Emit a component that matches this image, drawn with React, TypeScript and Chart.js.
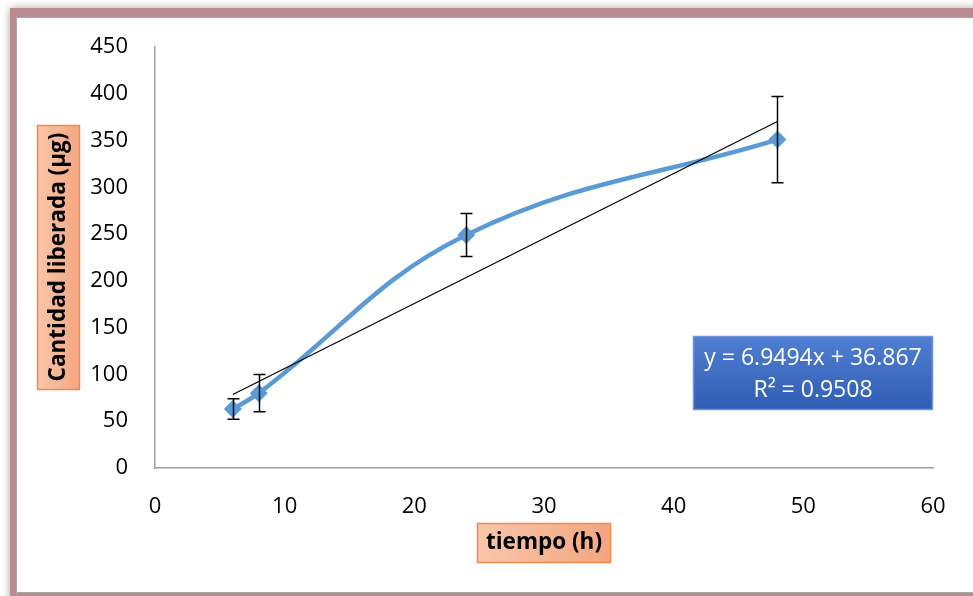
import React, { useEffect, useRef } from "react";
import { Chart, registerables } from "chart.js";

Chart.register(...registerables);

const tiempo = [6, 8, 24, 48];
const cantidad = [63, 80, 249, 351];
const errorBars = [11, 20, 23, 46];
const trendX = [6, 48];
const trendSlope = 6.9494;
const trendIntercept = 36.867;
const xTicks = [0, 10, 20, 30, 40, 50, 60];
const yTicks = [0, 50, 100, 150, 200, 250, 300, 350, 400, 450];
const equationLines = ["y = 6.9494x + 36.867", "R² = 0.9508"];
const xTitle = "tiempo (h)";
const yTitle = "Cantidad liberada (µg)";

const FONT = "'Open Sans', 'Noto Sans', sans-serif";

const framePlugin = {
  id: "frame",
  beforeDraw(chart: any) {
    const ctx = chart.ctx;
    const w = chart.width;
    const h = chart.height;
    ctx.save();
    ctx.fillStyle = "#ffffff";
    ctx.fillRect(0, 0, w, h);
    ctx.shadowColor = "rgba(0,0,0,0.35)";
    ctx.shadowBlur = 8;
    ctx.fillStyle = "#b98b91";
    ctx.fillRect(10, 8, w + 40, h + 40);
    ctx.shadowBlur = 0;
    ctx.shadowColor = "transparent";
    ctx.fillStyle = "#ffffff";
    ctx.fillRect(16, 17, w, 575);
    ctx.strokeStyle = "#a8a8a8";
    ctx.lineWidth = 1;
    ctx.beginPath();
    ctx.moveTo(16.5, h + 10);
    ctx.lineTo(16.5, 17.5);
    ctx.lineTo(w + 10, 17.5);
    ctx.moveTo(16, 592.5);
    ctx.lineTo(w, 592.5);
    ctx.stroke();
    ctx.restore();
  },
};

const errorBarPlugin = {
  id: "errorBars",
  afterDatasetsDraw(chart: any) {
    const ctx = chart.ctx;
    const xs = chart.scales.x;
    const ys = chart.scales.y;
    ctx.save();
    ctx.strokeStyle = "#000000";
    ctx.lineWidth = 1.5;
    for (let i = 0; i < tiempo.length; i++) {
      const px = Math.round(xs.getPixelForValue(tiempo[i])) + 0.5;
      const top = ys.getPixelForValue(cantidad[i] + errorBars[i]);
      const bot = ys.getPixelForValue(cantidad[i] - errorBars[i]);
      ctx.beginPath();
      ctx.moveTo(px, top);
      ctx.lineTo(px, bot);
      ctx.moveTo(px - 6, top);
      ctx.lineTo(px + 6, top);
      ctx.moveTo(px - 6, bot);
      ctx.lineTo(px + 6, bot);
      ctx.stroke();
    }
    ctx.restore();
  },
};

function drawBox(ctx: any, x: number, y: number, w: number, h: number, c1: string, c2: string, border: string, vertical: boolean) {
  const g = vertical ? ctx.createLinearGradient(x, y, x, y + h) : ctx.createLinearGradient(x, y, x + w, y);
  g.addColorStop(0, c1);
  g.addColorStop(1, c2);
  ctx.fillStyle = g;
  ctx.fillRect(x, y, w, h);
  ctx.strokeStyle = border;
  ctx.lineWidth = 1.5;
  ctx.strokeRect(x + 0.5, y + 0.5, w - 1, h - 1);
}

const annotationPlugin = {
  id: "annotations",
  afterDraw(chart: any) {
    const ctx = chart.ctx;
    ctx.save();
    // x title
    drawBox(ctx, 477, 523, 134, 40, "#f9c6aa", "#f4a57f", "#ee8a4e", false);
    ctx.fillStyle = "#000000";
    ctx.font = `bold 22.5px ${FONT}`;
    ctx.textAlign = "center";
    ctx.textBaseline = "middle";
    ctx.fillText(xTitle, 544, 543);
    // y title
    drawBox(ctx, 37, 125, 43, 265, "#f9c6aa", "#f4a57f", "#ee8a4e", false);
    ctx.save();
    ctx.translate(59, 257);
    ctx.rotate(-Math.PI / 2);
    ctx.fillStyle = "#000000";
    ctx.font = `bold 22.5px ${FONT}`;
    ctx.fillText(yTitle, 0, 0);
    ctx.restore();
    // equation box
    drawBox(ctx, 693, 336, 240, 74, "#4f7fd3", "#2f5db4", "#6f95d8", true);
    ctx.fillStyle = "#ffffff";
    ctx.font = `23px ${FONT}`;
    ctx.fillText(equationLines[0], 813, 358);
    ctx.fillText(equationLines[1], 813, 390);
    ctx.restore();
  },
};

export default function App() {
  const ref = useRef<HTMLCanvasElement | null>(null);
  useEffect(() => {
    document.body.style.margin = "0";
    document.body.style.overflow = "hidden";
    if (!ref.current) return;
    const trendData = trendX.map((x) => ({ x, y: trendSlope * x + trendIntercept }));
    const chart = new Chart(ref.current, {
      type: "scatter",
      data: {
        datasets: [
          {
            label: "trend",
            data: trendData,
            showLine: true,
            borderColor: "#000000",
            borderWidth: 1.2,
            pointRadius: 0,
            tension: 0,
            order: 0,
          },
          {
            label: "Cantidad liberada",
            data: tiempo.map((x, i) => ({ x, y: cantidad[i] })),
            showLine: true,
            borderColor: "#5b9bd5",
            backgroundColor: "#5b9bd5",
            borderWidth: 4.5,
            tension: 0.4,
            pointStyle: "rectRot",
            pointRadius: 9,
            pointBorderWidth: 0,
            order: 1,
          },
        ],
      },
      options: {
        responsive: false,
        animation: false,
        layout: { padding: { left: 0, top: 47, right: 40, bottom: 0 } },
        plugins: { legend: { display: false }, tooltip: { enabled: false } },
        scales: {
          x: {
            type: "linear",
            min: 0,
            max: 60,
            afterBuildTicks: (s: any) => {
              s.ticks = xTicks.map((v) => ({ value: v }));
            },
            afterFit: (s: any) => {
              s.height = 128;
            },
            grid: { display: false },
            border: { display: true, color: "#a0a0a0", width: 1.5 },
            ticks: { color: "#000000", font: { family: FONT, size: 22 }, padding: 18, maxRotation: 0 },
          },
          y: {
            type: "linear",
            min: 0,
            max: 450,
            afterBuildTicks: (s: any) => {
              s.ticks = yTicks.map((v) => ({ value: v }));
            },
            afterFit: (s: any) => {
              s.width = 155;
            },
            grid: { display: false },
            border: { display: true, color: "#a0a0a0", width: 1.5 },
            ticks: { color: "#000000", font: { family: FONT, size: 22 }, padding: 19 },
          },
        },
      },
      plugins: [framePlugin, errorBarPlugin, annotationPlugin],
    } as any);
    return () => chart.destroy();
  }, []);
  return <canvas ref={ref} width={973} height={596} style={{ display: "block", width: 973, height: 596 }} />;
}
